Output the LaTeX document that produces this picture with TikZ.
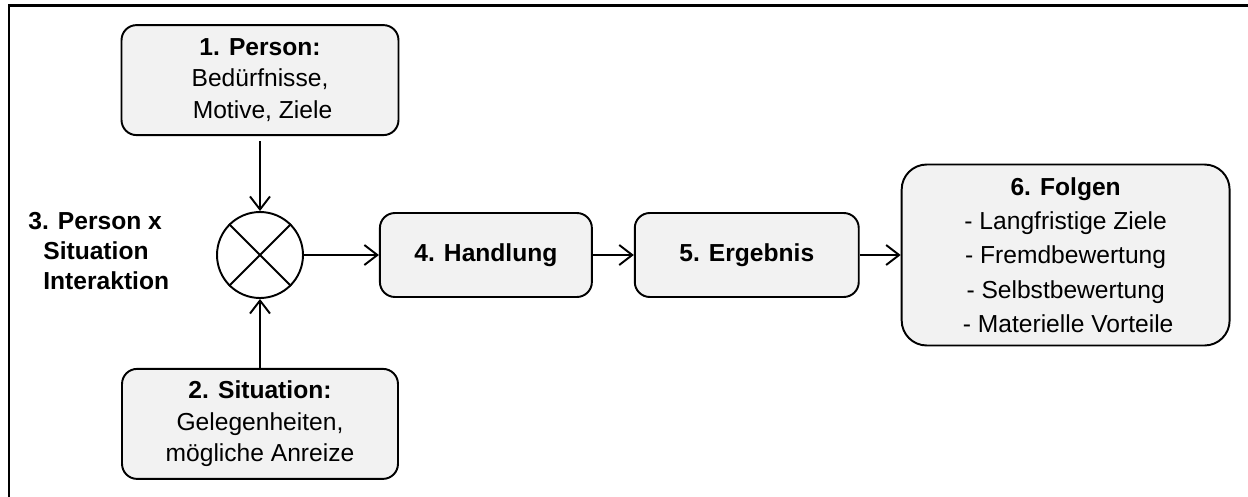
\documentclass[tikz,border=0pt]{standalone}
\usepackage{fontspec}
\setmainfont{Liberation Sans}
\usetikzlibrary{positioning,arrows.meta}
\definecolor{boxgray}{RGB}{242,242,242}
\tikzset{
  box/.style={draw, line width=1.1pt, rounded corners=0.3cm, fill=boxgray, align=center, inner sep=0pt, font=\fontsize{14}{18}\selectfont},
  bigbox/.style={box, rounded corners=0.5cm, font=\fontsize{14}{19.5}\selectfont},
  mult/.style={draw, circle, line width=1.1pt, minimum size=1.72cm, inner sep=0pt},
  note/.style={align=left, inner sep=0pt, font=\fontsize{14}{17.2}\selectfont\bfseries},
  arrow/.style={-{Straight Barb[length=2.6mm,width=4mm]}, line width=1.1pt}
}

\begin{document}
\begin{tikzpicture}[x=0.02cm, y=-0.02cm, node distance=1.5cm]
        \useasboundingbox (0,0) rectangle (1248,497);
        \draw[line width=1.4pt] (9,497) -- (9,5.5) -- (1248,5.5);
        \node[mult] (px) at (260,255) {};
        \draw[line width=1.1pt] (px.north west) -- (px.south east) (px.north east) -- (px.south west);
        \node[box, minimum width=5.54cm, minimum height=2.2cm, above=1.5cm of px] (person) {\textbf{1. Person:}\\Bedürfnisse,\\\hspace*{0.1cm}Motive, Ziele};
        \node[box, minimum width=5.52cm, minimum height=2.2cm, below=1.38cm of px] (situation) {\textbf{2. Situation:}\\Gelegenheiten,\\mögliche Anreize};
        \node[box, minimum width=4.24cm, minimum height=1.68cm, right=1.5cm of px] (handlung) {\textbf{4. Handlung}};
        \node[box, minimum width=4.48cm, minimum height=1.68cm, right=0.82cm of handlung] (ergebnis) {\textbf{5. Ergebnis}};
        \node[bigbox, minimum width=6.56cm, minimum height=3.62cm, right=0.82cm of ergebnis] (folgen) {\textbf{6. Folgen}\\- Langfristige Ziele\\- Fremdbewertung\\- Selbstbewertung\\\hspace*{0.1cm}- Materielle Vorteile};
        \node[note, anchor=west] (inter) at (28,251) {3. Person x\\\hspace*{0.3cm}Situation\\\hspace*{0.3cm}Interaktion};
        \draw[arrow, shorten <=0.1cm] (person) -- (px);
        \draw[arrow] (situation) -- (px);
        \foreach \a/\b in {px/handlung,handlung/ergebnis,ergebnis/folgen}{\draw[arrow] (\a) -- (\b);}
      \end{tikzpicture}
\end{document}
